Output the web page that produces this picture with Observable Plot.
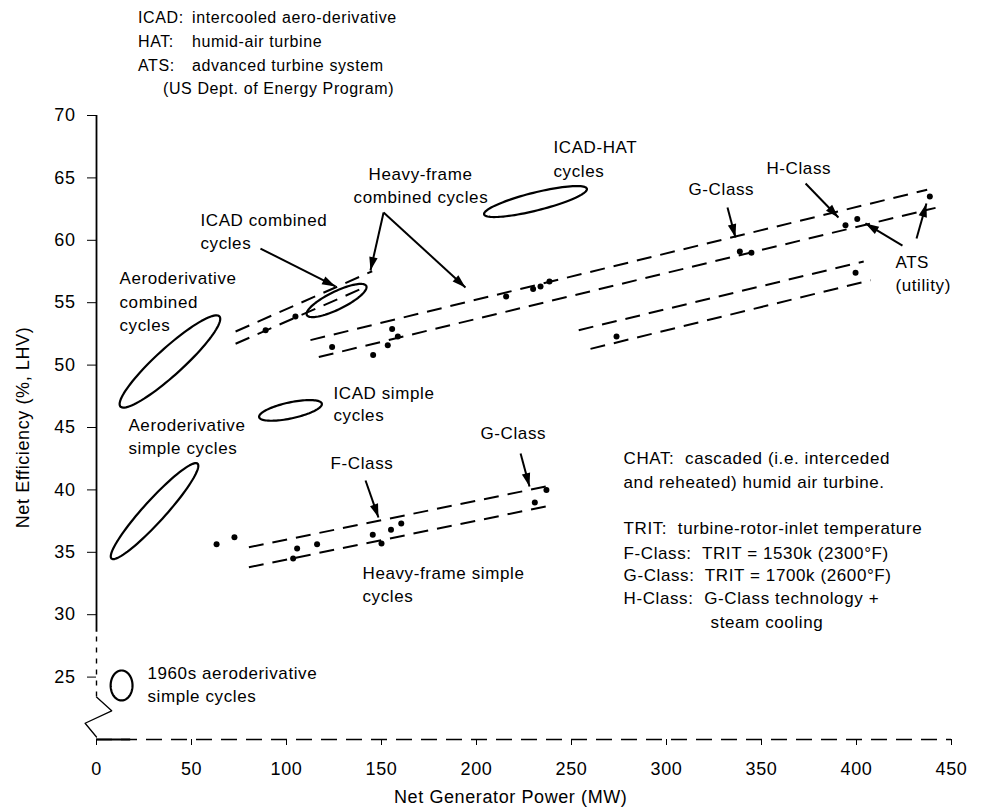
<!DOCTYPE html>
<html><head><meta charset="utf-8">
<script src="https://cdn.jsdelivr.net/npm/d3@7"></script>
<script src="https://cdn.jsdelivr.net/npm/@observablehq/plot@0.6"></script>
<style>
body{margin:0;background:#fff;font-family:"Liberation Sans",Arial,sans-serif;color:#000}
#wrap{position:relative;width:981px;height:812px;overflow:hidden}
#head{position:relative;height:100px;font-size:16px;letter-spacing:0.6px}
.hl{position:absolute;white-space:nowrap;line-height:20px}
#chart svg text{letter-spacing:0.6px}
</style></head><body>
<div id="wrap"><div id="head"></div><div id="chart"></div></div>
<script>
// ---- header notes ----
const noteKeys = ["ICAD:", "HAT:", "ATS:", ""];
const noteTexts = ["intercooled aero-derivative", "humid-air turbine", "advanced turbine system", "(US Dept. of Energy Program)"];

// ---- data points (MW, % efficiency) ----
const combinedMW  = [89, 104.7, 124, 145.6, 153.3, 155.6, 158.6, 215.6, 229.8, 233.7, 238.4, 338.6, 344.7, 394.2, 400.4, 438.6, 273.7, 399.5];
const combinedEff = [52.8, 53.9, 51.45, 50.8, 51.6, 52.9, 52.3, 55.5, 56.1, 56.3, 56.7, 59.1, 59.0, 61.2, 61.7, 63.5, 52.3, 57.4];
const simpleMW    = [63.2, 72.6, 103.5, 105.6, 116.1, 145.4, 150, 155, 160.4, 230.7, 236.8];
const simpleEff   = [35.65, 36.2, 34.5, 35.3, 35.65, 36.4, 35.7, 36.8, 37.3, 39.0, 40.0];

// ---- dashed trend bands ----
const bandX1 = [73.2, 73.2, 112.6, 117, 253.8, 260, 80.2, 80.2];
const bandY1 = [52.69, 51.71, 52.0, 50.65, 52.8, 51.3, 35.4, 33.8];
const bandX2 = [145.1, 141.6, 437.2, 441.6, 403.8, 407.4, 240.7, 240.7];
const bandY2 = [57.52, 56.26, 64.05, 62.6, 58.3, 56.8, 40.4, 38.8];

// ---- ellipses: major-axis endpoints (data units) and minor/major ratio ----
const ellNames = ["Aeroderivative combined", "Aeroderivative simple", "ICAD simple", "ICAD-HAT", "ICAD combined", "1960s aeroderivative"];
const ellX1 = [12.6, 7.9, 85.6, 204, 110.7, 13.2];
const ellY1 = [46.68, 34.5, 45.83, 62.08, 54.01, 25.53];
const ellX2 = [64.7, 53.2, 118.6, 258.1, 142, 13.2];
const ellY2 = [53.9, 42.1, 46.91, 64.13, 56.34, 23.13];
const ellRatio = [0.2, 0.17, 0.25, 0.17, 0.27, 0.73];

// ---- annotation arrows (from -> to) ----
const arrowX1 = [86.3, 151.1, 151.1, 332.1, 373.2, 424.2, 431.6, 141.6, 223.2];
const arrowY1 = [59.34, 62.23, 62.23, 62.63, 64.55, 59.58, 60.14, 40.75, 42.92];
const arrowX2 = [125.8, 144.2, 194.2, 336.3, 390.5, 404.7, 436.8, 148.4, 227.9];
const arrowY2 = [56.3, 57.58, 56.22, 60.22, 61.83, 61.35, 62.95, 37.79, 40.27];

// ---- annotation labels ----
const labelText = ["Aeroderivative", "combined", "cycles", "ICAD combined", "cycles", "Heavy-frame", "combined cycles",
  "ICAD-HAT", "cycles", "G-Class", "H-Class", "ATS", "(utility)", "ICAD simple", "cycles", "Aeroderivative", "simple cycles",
  "F-Class", "G-Class", "Heavy-frame simple", "cycles",
  "CHAT:\u00a0 cascaded (i.e. interceded", "and reheated) humid air turbine.",
  "TRIT:\u00a0 turbine-rotor-inlet temperature", "F-Class:\u00a0 TRIT = 1530k (2300°F)", "G-Class:\u00a0 TRIT = 1700k (2600°F)",
  "H-Class:\u00a0 G-Class technology +", "steam cooling", "1960s aeroderivative", "simple cycles"];
const labelX = [12.1, 12.1, 12.1, 54.7, 54.7, 143.2, 135.3, 240.5, 240.5, 311.6, 352.6, 420.5, 420.5, 124.7, 124.7, 16.8, 16.8,
  123.2, 202.1, 140, 140, 277.4, 277.4, 277.4, 277.4, 277.4, 277.4, 323.2, 26.8, 26.8];
const labelY = [56.94, 55.0, 53.17, 61.59, 59.74, 65.27, 63.43, 67.44, 65.51, 64.07, 65.75, 58.22, 56.38, 47.72, 45.96, 45.16, 43.32,
  42.12, 44.52, 33.3, 31.46, 42.52, 40.59, 36.91, 34.9, 33.14, 31.3, 29.38, 25.29, 23.45];

// ---- axes ----
const xTitle = "Net Generator Power (MW)";
const yTitle = "Net Efficiency (%, LHV)";
const xTicks = [0, 50, 100, 150, 200, 250, 300, 350, 400, 450];
const yTicks = [25, 30, 35, 40, 45, 50, 55, 60, 65, 70];
const xDomain = [0, 450];
const yDomain = [20, 70];
const xAxisSolid = [0, 18];
const yAxisSolid = [28.6, 70];
const yAxisDashed = [23.4, 28.6];
const breakX = [0, 8, -6, 0];
const breakY = [23.4, 22.3, 21.3, 20.2];

// ---- header ----
const head = document.getElementById("head");
const lineTops = [8, 32, 56, 79];
noteKeys.forEach((k, i) => {
  if (k) {
    const a = document.createElement("div"); a.className = "hl";
    a.style.left = "138px"; a.style.top = lineTops[i] + "px"; a.textContent = k; head.appendChild(a);
  }
  const b = document.createElement("div"); b.className = "hl";
  b.style.left = (k ? 192 : 163) + "px"; b.style.top = lineTops[i] + "px"; b.textContent = noteTexts[i]; head.appendChild(b);
});

// ---- layout ----
const W = 981, H = 712, mL = 96, mR = 30, mT = 15, mB = 73;
const kx = (W - mL - mR) / (xDomain[1] - xDomain[0]);
const ky = (H - mT - mB) / (yDomain[1] - yDomain[0]);

const pts = (xs, ys) => xs.map((x, i) => ({x, y: ys[i]}));
const combined = pts(combinedMW, combinedEff);
const simple = pts(simpleMW, simpleEff);
const bands = bandX1.map((x, i) => ({x1: x, y1: bandY1[i], x2: bandX2[i], y2: bandY2[i]}));

const ellPts = [];
ellNames.forEach((name, i) => {
  const ax = ellX1[i] * kx, ay = ellY1[i] * ky, bx = ellX2[i] * kx, by = ellY2[i] * ky;
  const cx = (ax + bx) / 2, cy = (ay + by) / 2, ux = (bx - ax) / 2, uy = (by - ay) / 2;
  const vx = -uy * ellRatio[i], vy = ux * ellRatio[i];
  for (let t = 0; t <= 96; t++) {
    const a = t / 96 * 2 * Math.PI;
    ellPts.push({name, x: (cx + ux * Math.cos(a) + vx * Math.sin(a)) / kx, y: (cy + uy * Math.cos(a) + vy * Math.sin(a)) / ky});
  }
});

const arrows = arrowX1.map((x, i) => {
  const dx = (arrowX2[i] - x) * kx, dy = -(arrowY2[i] - arrowY1[i]) * ky;
  return {x1: x, y1: arrowY1[i], x2: arrowX2[i], y2: arrowY2[i], rot: Math.atan2(dy, dx) * 180 / Math.PI + 90};
});
const headSymbol = {draw(ctx, size) {
  const r = Math.sqrt(size / Math.PI);
  ctx.moveTo(0, 0); ctx.lineTo(0.85 * r, 2.7 * r); ctx.lineTo(-0.85 * r, 2.7 * r); ctx.closePath();
}};
const labels = labelText.map((t, i) => ({t, x: labelX[i], y: labelY[i]}));
const breakPts = pts(breakX, breakY);

const chart = Plot.plot({
  width: W, height: H,
  marginLeft: mL, marginRight: mR, marginTop: mT, marginBottom: mB,
  style: {fontFamily: "'Liberation Sans', Arial, sans-serif", fontSize: "18px", color: "black", background: "white"},
  x: {domain: xDomain},
  y: {domain: yDomain},
  marks: [
    Plot.axisX(xTicks, {tickSize: 6, tickPadding: 17, fontSize: 18, label: null}),
    Plot.text([xTitle], {x: 218, frameAnchor: "bottom", dy: 58, lineAnchor: "middle", fontSize: 18, fill: "black"}),
    Plot.axisY(yTicks, {tickSize: 9, tickPadding: 12, fontSize: 18, label: yTitle, labelAnchor: "center", labelOffset: 80, labelArrow: "none"}),
    Plot.ruleY([yDomain[0]], {x1: xDomain[0], x2: xDomain[1], strokeWidth: 1.4, strokeDasharray: "16,9"}),
    Plot.ruleY([yDomain[0]], {x1: xAxisSolid[0], x2: xAxisSolid[1], strokeWidth: 1.8}),
    Plot.ruleX([xDomain[0]], {y1: yAxisSolid[0], y2: yAxisSolid[1], strokeWidth: 1.8}),
    Plot.ruleX([xDomain[0]], {y1: yAxisDashed[0], y2: yAxisDashed[1], strokeWidth: 1.4, strokeDasharray: "5,6"}),
    Plot.line(breakPts, {x: "x", y: "y", strokeWidth: 1.3}),
    Plot.link(bands, {x1: "x1", y1: "y1", x2: "x2", y2: "y2", strokeWidth: 2, strokeDasharray: "15,9"}),
    Plot.line(ellPts, {x: "x", y: "y", z: "name", strokeWidth: 2.2}),
    Plot.dot(combined, {x: "x", y: "y", r: 3, fill: "black"}),
    Plot.dot(simple, {x: "x", y: "y", r: 3, fill: "black"}),
    Plot.link(arrows, {x1: "x1", y1: "y1", x2: "x2", y2: "y2", strokeWidth: 2}),
    Plot.dot(arrows, {x: "x2", y: "y2", rotate: "rot", symbol: headSymbol, r: 5, fill: "black", stroke: "none"}),
    Plot.text(labels, {x: "x", y: "y", text: "t", textAnchor: "start", lineAnchor: "middle", fontSize: 17, fill: "black"})
  ]
});
document.getElementById("chart").appendChild(chart);
</script>
</body></html>
